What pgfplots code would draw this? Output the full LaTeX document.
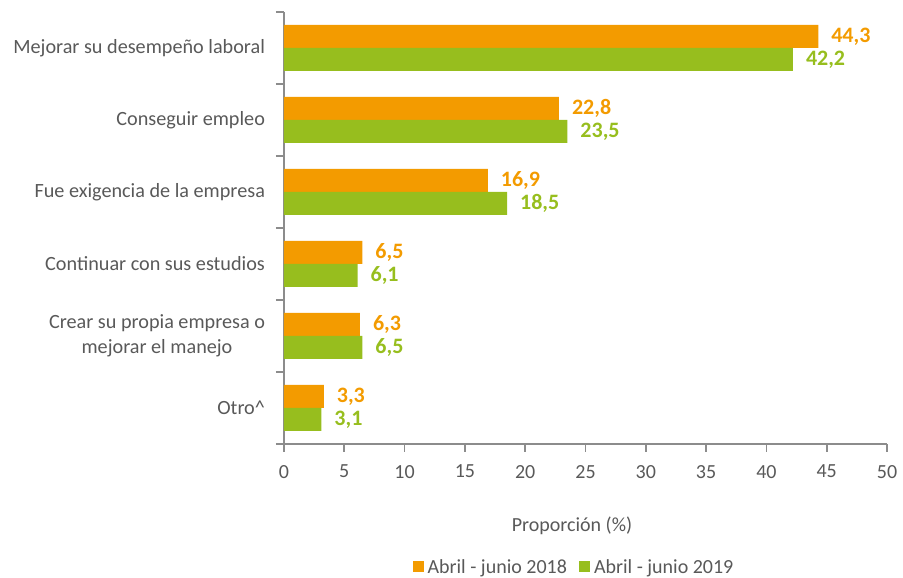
\documentclass[border=0pt]{standalone}
\usepackage{fontspec}
\setmainfont{Carlito}
\usepackage{pgfplots}
\pgfplotsset{compat=1.18}
\definecolor{orangeC}{RGB}{243,155,0}
\definecolor{greenC}{RGB}{151,190,30}
\definecolor{txt}{RGB}{89,89,89}
\definecolor{axiscol}{RGB}{140,140,140}
\begin{document}
\begin{tikzpicture}
\begin{axis}[
  scale only axis, width=301.5pt, height=216pt,
  xbar, bar width=11.5pt,
  xmin=0, xmax=50, ymin=-0.5, ymax=5.5,
  axis x line*=bottom, axis y line*=left,
  axis line style={axiscol, line width=0.8pt},
  tick style={axiscol, line width=0.8pt},
  tick align=outside, major tick length=4pt,
  xtick={0,5,...,50},
  ytick={-0.5,0.5,1.5,2.5,3.5,4.5,5.5},
  y tick label as interval,
  yticklabels={Otro\textasciicircum, {Crear su propia empresa o\\mejorar el manejo}, Continuar con sus estudios, Fue exigencia de la empresa, Conseguir empleo, Mejorar su desempeño laboral},
  yticklabel style={align=center, text=txt, font=\fontsize{10.1}{12.5}\selectfont, xshift=-2pt},
  xticklabel style={text=txt, font=\fontsize{10}{12}\selectfont},
  xticklabel shift=3pt,
  /pgf/number format/assume math mode=true,
  /pgf/number format/.cd, use comma, fixed, fixed zerofill, precision=1, /pgfplots/.cd,
  xticklabel={\pgfmathprintnumber[fixed, precision=0, fixed zerofill=false]{\tick}},
  nodes near coords, nodes near coords align=horizontal,
  every node near coord/.append style={font=\fontsize{11}{13}\selectfont\bfseries, xshift=3pt},
  xlabel={Proporción (\%)},
  xlabel style={at={(axis description cs:0.4776,0)}, anchor=center, yshift=-41pt, text=txt, font=\fontsize{10}{12}\selectfont},
  legend columns=2,
  legend style={at={(axis description cs:0.4826,0)}, anchor=center, yshift=-62pt, draw=none, text=txt, font=\fontsize{10}{12}\selectfont, /tikz/every even column/.append style={column sep=4pt}},
  legend image code/.code={\fill[#1] (0pt,-2pt) rectangle (5.5pt,3.5pt);},
]
\addplot[fill=orangeC, draw=none, bar shift=5.75pt, nodes near coords style={text=orangeC}] coordinates {(44.3,5) (22.8,4) (16.9,3) (6.5,2) (6.3,1) (3.3,0)};
\addlegendentry{Abril - junio 2018}
\addplot[fill=greenC, draw=none, bar shift=-5.75pt, nodes near coords style={text=greenC}] coordinates {(42.2,5) (23.5,4) (18.5,3) (6.1,2) (6.5,1) (3.1,0)};
\addlegendentry{Abril - junio 2019}
\coordinate (bl) at (axis description cs:0,0);
\coordinate (tr) at (axis description cs:1,1);
\end{axis}
\pgfresetboundingbox
\path[use as bounding box] ([xshift=-142pt,yshift=-67pt]bl) rectangle ([xshift=8pt,yshift=6pt]tr);
\end{tikzpicture}
\end{document}
